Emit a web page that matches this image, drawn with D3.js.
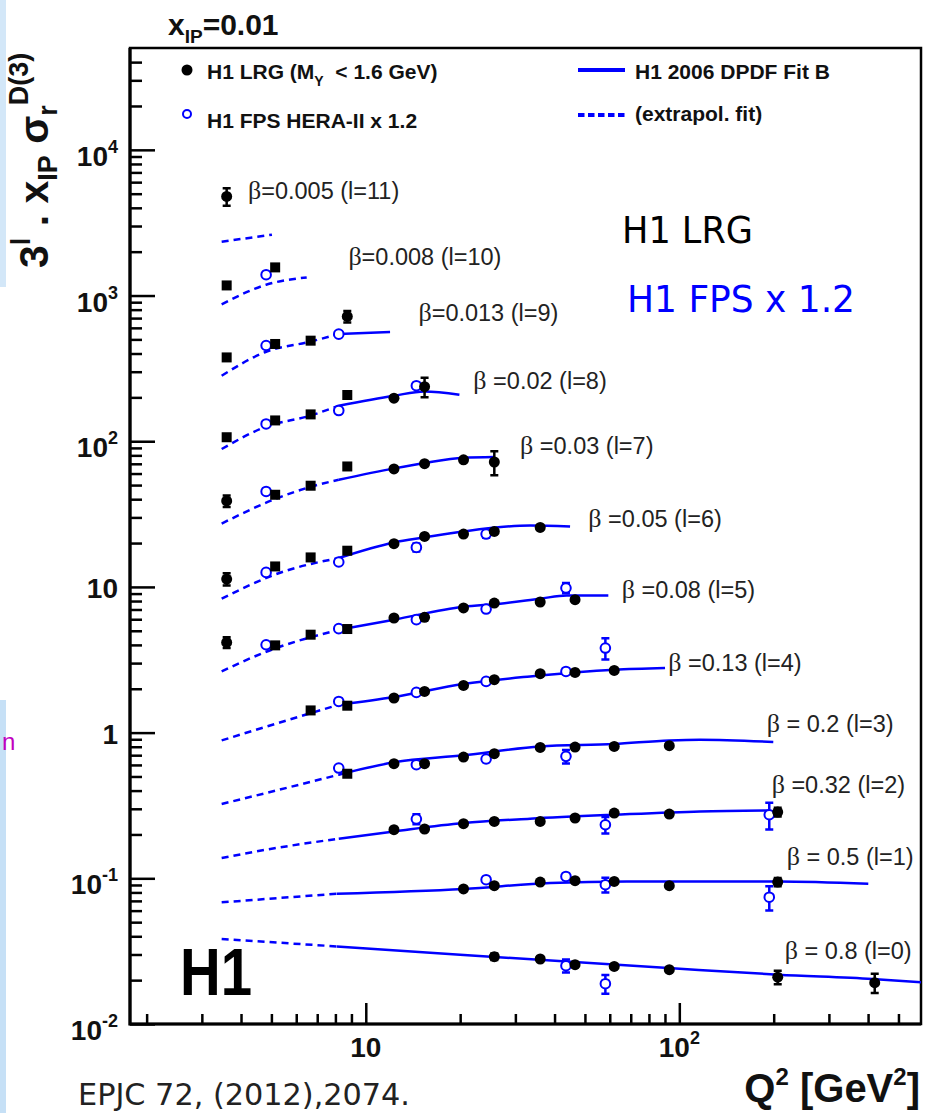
<!DOCTYPE html>
<html>
<head>
<meta charset="utf-8">
<script src="https://cdn.jsdelivr.net/npm/d3@7/dist/d3.min.js"></script>
<style>
  body { margin: 0; background: #fff; }
  svg { display: block; }
</style>
</head>
<body>
<svg id="chart" width="927" height="1113"></svg>
<script>
// beta bins, top row (l=11) to bottom row (l=0)
var binLabels = ['=0.005 (l=11)', '=0.008 (l=10)', '=0.013 (l=9)', ' =0.02 (l=8)', ' =0.03 (l=7)', ' =0.05 (l=6)',
    ' =0.08 (l=5)', ' =0.13 (l=4)', ' = 0.2 (l=3)', ' =0.32 (l=2)', ' = 0.5 (l=1)', ' = 0.8 (l=0)'];

// H1 LRG points per bin: [Q2, 3^l * xIP * sigma, error]
var lrgPoints = [
    [[3.6, 4790, 650]],
    [[3.6, 1173, 0], [5.14, 1560, 0]],
    [[3.6, 376, 0], [5.14, 465, 0], [6.67, 490, 0], [8.73, 719, 65]],
    [[3.6, 106.5, 0], [5.14, 138.9, 0], [6.67, 152.8, 0], [8.73, 207.6, 0], [12.3, 197.3, 0], [15.4, 236.6, 36]],
    [[3.6, 38.9, 3.5], [5.14, 42.9, 0], [6.67, 49.5, 0], [8.73, 67.1, 0], [12.3, 64.5, 0], [15.4, 70.1, 0], [20.5, 74.6, 0], [25.7, 72.0, 13.5]],
    [[3.6, 11.33, 1.1], [5.14, 13.82, 0], [6.67, 15.94, 0], [8.73, 17.72, 0], [12.3, 19.79, 0], [15.4, 22.21, 0], [20.5, 23.07, 0], [25.7, 24.04, 0], [36, 25.61, 0]],
    [[3.6, 4.16, 0.35], [5.14, 3.97, 0], [6.67, 4.70, 0], [8.73, 5.14, 0], [12.3, 6.12, 0], [15.4, 6.18, 0], [20.5, 7.17, 0], [25.7, 7.75, 0], [36, 7.88, 0], [46.5, 8.17, 0]],
    [[6.67, 1.42, 0], [8.73, 1.53, 0], [12.3, 1.728, 0], [15.4, 1.918, 0], [20.5, 2.108, 0], [25.7, 2.307, 0], [36, 2.537, 0], [46.5, 2.589, 0], [62, 2.673, 0]],
    [[8.73, 0.522, 0], [12.3, 0.612, 0], [15.4, 0.612, 0], [20.5, 0.680, 0], [25.7, 0.717, 0], [36, 0.791, 0], [46.5, 0.796, 0], [62, 0.804, 0], [92.9, 0.813, 0]],
    [[12.3, 0.2157, 0], [15.4, 0.218, 0], [20.5, 0.2369, 0], [25.7, 0.2457, 0], [36, 0.2457, 0], [46.5, 0.2594, 0], [62, 0.2806, 0], [92.9, 0.2762, 0], [206, 0.2851, 0.02]],
    [[20.5, 0.0845, 0], [25.7, 0.0890, 0], [36, 0.0943, 0], [46.5, 0.0963, 0], [62, 0.0952, 0], [92.9, 0.0890, 0], [206, 0.0943, 0.006]],
    [[25.7, 0.0290, 0.0015], [36, 0.02793, 0], [46.5, 0.02553, 0], [62, 0.02485, 0], [92.9, 0.02359, 0], [206, 0.02096, 0.0022], [420, 0.01921, 0.0029]]
];

// H1 FPS HERA-II x 1.2 points per bin: [Q2, value, error]
var fpsPoints = [
    [],
    [[4.81, 1390, 0]],
    [[4.81, 454, 0], [8.2, 543, 0]],
    [[4.81, 131.4, 0], [8.2, 162.4, 0], [14.5, 240.4, 0]],
    [[4.81, 45.2, 0]],
    [[4.81, 12.58, 0], [8.2, 14.83, 0], [14.5, 18.67, 1.2], [24.2, 23.07, 1.3]],
    [[4.81, 4.01, 0], [8.2, 5.17, 0], [14.5, 5.96, 0], [24.2, 7.05, 0.3], [43.5, 9.83, 0.8]],
    [[8.2, 1.637, 0], [14.5, 1.888, 0], [24.2, 2.246, 0.1], [43.5, 2.630, 0.1], [58.1, 3.807, 0.63]],
    [[8.2, 0.571, 0], [14.5, 0.602, 0], [24.2, 0.659, 0.03], [43.5, 0.687, 0.074]],
    [[14.5, 0.2553, 0.02], [58.1, 0.2332, 0.03], [193.6, 0.2732, 0.057]],
    [[24.2, 0.0978, 0], [43.5, 0.1030, 0.005], [58.1, 0.0904, 0.0105], [193.6, 0.0742, 0.014]],
    [[43.5, 0.02513, 0.0026], [58.1, 0.01891, 0.0028]]
];

// H1 2006 DPDF Fit B per bin: [Q2, value]
var fitCurves = [
    [[3.47, 2340], [5.02, 2615]],
    [[3.47, 871], [4.81, 1186], [6.48, 1332]],
    [[3.47, 281.6], [4.81, 411.5], [6.64, 482], [8.2, 544], [11.95, 562]],
    [[3.47, 88.4], [4.81, 125.8], [6.64, 149.6], [8.2, 175.3], [12.31, 205.3], [15.38, 219.7], [19.89, 208.5]],
    [[3.47, 27.2], [5.075, 39.7], [6.64, 48.5], [8.2, 54.4], [12.31, 65.1], [15.38, 70.9], [20.48, 77.0], [25.71, 77.9]],
    [[3.47, 8.30], [5.33, 12.52], [8.2, 15.79], [12.31, 20.20], [15.38, 21.86], [20.48, 24.04], [33.42, 26.43], [44.83, 26.01]],
    [[3.47, 2.63], [4.81, 3.59], [8.2, 5.08], [12.31, 5.96], [20.48, 7.31], [26.81, 7.67], [35.96, 8.30], [43.75, 8.74], [59.37, 8.74]],
    [[3.47, 0.884], [4.81, 1.098], [8.2, 1.554], [12.31, 1.755], [20.48, 2.156], [33.42, 2.430], [62.03, 2.702], [90.05, 2.776]],
    [[3.47, 0.3236], [4.81, 0.385], [8.2, 0.514], [12.31, 0.625], [20.48, 0.698], [35.96, 0.804], [62.03, 0.835], [92.92, 0.884], [116.4, 0.894], [199.4, 0.862]],
    [[3.47, 0.1378], [4.81, 0.1572], [8.2, 0.1870], [12.31, 0.2099], [20.48, 0.2396], [33.42, 0.2566], [62.03, 0.2732], [116.4, 0.2879], [193.6, 0.2924]],
    [[3.47, 0.0684], [8.08, 0.0784], [20.55, 0.0845], [38.7, 0.0928], [68.0, 0.0952], [206.8, 0.0952], [400.6, 0.0918]],
    [[3.47, 0.03832], [8.08, 0.03408], [19.99, 0.02989], [92.24, 0.02423], [206.9, 0.02180], [412.5, 0.02037], [600, 0.01930]]
];
// fit drawn dashed below this Q2 (extrapolation), solid above
var fitSolidFrom = [null, null, 8.2, 8.2, 8.2, 8.2, 8.2, 8.2, 8.2, 8.2, 8.08, 8.08];

// where each beta label sits, in data units
var labelQ = [4.21, 8.80, 14.72, 22.03, 31.05, 51.28, 65.5, 92.2, 190, 197, 220, 217];
var labelV = [4617, 1627, 671, 229.2, 82.1, 25.9, 8.43, 2.66, 1.014, 0.387, 0.124, 0.0281];

var yMajor = [1e-2, 1e-1, 1, 10, 1e2, 1e3, 1e4];
var yTickText = [['10', '-2'], ['10', '-1'], ['1', ''], ['10', ''], ['10', '2'], ['10', '3'], ['10', '4']];
var xMajor = [10, 100];
var xTickText = [['10', ''], ['10', '2']];

var SANS = "'Liberation Sans', Arial, sans-serif";
var SERIF = "'Liberation Serif', 'Times New Roman', serif";
var COMIC = "'DejaVu Sans', sans-serif";
var BLUE = '#0000ff';

var svg = d3.select('#chart');
var x = d3.scaleLog().domain([1.77, 590]).range([130, 921]);
var y = d3.scaleLog().domain([0.01, 5e4]).range([1024, 48]);

// slide leftovers at the left edge
svg.append('rect').attr('x', 0).attr('y', 0).attr('width', 6).attr('height', 287).attr('fill', '#d3e7f8');
svg.append('rect').attr('x', 0).attr('y', 700).attr('width', 6).attr('height', 413).attr('fill', '#c6e0f6');
svg.append('text').attr('x', 2).attr('y', 750).attr('font-family', SANS).attr('font-size', 24)
    .attr('fill', '#c000c0').text('n');

svg.append('defs').append('clipPath').attr('id', 'plotclip')
    .append('rect').attr('x', 130).attr('y', 48).attr('width', 791).attr('height', 976);

// minor tick values
var yMinor = [];
for (var n = -2; n <= 4; n++) {
    for (var k = 2; k <= 9; k++) {
        if (k * Math.pow(10, n) < 5e4) yMinor.push(k * Math.pow(10, n));
    }
}
var xMinor = [];
for (var m = 0; m <= 2; m++) {
    for (var j = 2; j <= 9; j++) {
        var v = j * Math.pow(10, m);
        if (v > 1.77 && v < 590) xMinor.push(v);
    }
}

function tickAxis(axis, sel) {
    sel.call(axis);
    sel.select('.domain').remove();
    sel.selectAll('.tick line').attr('stroke', '#000').attr('stroke-width', 2.5);
    sel.selectAll('.tick text').remove();
}

tickAxis(d3.axisRight(y).tickValues(yMajor).tickSize(25).tickFormat(''),
    svg.append('g').attr('transform', 'translate(130,0)'));
tickAxis(d3.axisRight(y).tickValues(yMinor).tickSize(12).tickFormat(''),
    svg.append('g').attr('transform', 'translate(130,0)'));
tickAxis(d3.axisTop(x).tickValues(xMajor).tickSize(21).tickFormat(''),
    svg.append('g').attr('transform', 'translate(0,1024)'));
tickAxis(d3.axisTop(x).tickValues(xMinor).tickSize(10).tickFormat(''),
    svg.append('g').attr('transform', 'translate(0,1024)'));

// frame
svg.append('rect').attr('x', 130).attr('y', 48).attr('width', 791).attr('height', 976)
    .attr('fill', 'none').attr('stroke', '#000').attr('stroke-width', 2.5);
svg.append('path').attr('d', 'M130,48V1024H921').attr('fill', 'none')
    .attr('stroke', '#000').attr('stroke-width', 3.2);

// tick labels
yMajor.forEach(function(v, i) {
    var lab = yTickText[i];
    var t = svg.append('text').attr('x', 118).attr('y', y(v) + (lab[1] ? 16 : 11))
        .attr('text-anchor', 'end').attr('font-family', SANS).attr('font-weight', 'bold')
        .attr('font-size', 28).attr('fill', '#111');
    t.append('tspan').text(lab[0]);
    if (lab[1]) t.append('tspan').attr('font-size', 18).attr('dy', -13).text(lab[1]);
});
xMajor.forEach(function(v, i) {
    var lab = xTickText[i];
    var t = svg.append('text').attr('x', x(v)).attr('y', 1057)
        .attr('text-anchor', 'middle').attr('font-family', SANS).attr('font-weight', 'bold')
        .attr('font-size', 28).attr('fill', '#111');
    t.append('tspan').text(lab[0]);
    if (lab[1]) t.append('tspan').attr('font-size', 18).attr('dy', -13).text(lab[1]);
});

// fit curves
var line = d3.line()
    .x(function(d) { return x(d[0]); })
    .y(function(d) { return y(d[1]); })
    .curve(d3.curveMonotoneX);
var curves = svg.append('g').attr('clip-path', 'url(#plotclip)');
fitCurves.forEach(function(pts, i) {
    var split = fitSolidFrom[i];
    var dashed = split == null ? pts : pts.filter(function(p) { return p[0] <= split; });
    var solid = split == null ? [] : pts.filter(function(p) { return p[0] >= split; });
    curves.append('path').datum(dashed).attr('d', line).attr('fill', 'none')
        .attr('stroke', BLUE).attr('stroke-width', 2.5).attr('stroke-dasharray', '7,5');
    if (solid.length > 1) {
        curves.append('path').datum(solid).attr('d', line).attr('fill', 'none')
            .attr('stroke', BLUE).attr('stroke-width', 2.5);
    }
});

function errorBars(g, pts, color) {
    pts.filter(function(p) { return p[2] > 0; }).forEach(function(p) {
        var cx = x(p[0]);
        var y1 = y(p[1] + p[2]);
        var y2 = y(p[1] - p[2]);
        g.append('path')
            .attr('d', 'M' + cx + ',' + y1 + 'V' + y2 + 'M' + (cx - 4) + ',' + y1 + 'H' + (cx + 4) +
                'M' + (cx - 4) + ',' + y2 + 'H' + (cx + 4))
            .attr('stroke', color).attr('stroke-width', 2.5).attr('fill', 'none');
    });
}

// FPS points (open blue circles)
var fpsG = svg.append('g');
fpsPoints.forEach(function(pts) {
    errorBars(fpsG, pts, BLUE);
    fpsG.selectAll(null).data(pts).enter().append('circle')
        .attr('cx', function(d) { return x(d[0]); })
        .attr('cy', function(d) { return y(d[1]); })
        .attr('r', 4.8).attr('fill', '#fff').attr('stroke', BLUE).attr('stroke-width', 2);
});

// LRG points (black, squares at low Q2)
var lrgG = svg.append('g');
lrgPoints.forEach(function(pts) {
    errorBars(lrgG, pts, '#000');
    var sq = pts.filter(function(d) { return d[0] < 10 && d[2] === 0; });
    var ci = pts.filter(function(d) { return !(d[0] < 10 && d[2] === 0); });
    lrgG.selectAll(null).data(sq).enter().append('rect')
        .attr('x', function(d) { return x(d[0]) - 5; })
        .attr('y', function(d) { return y(d[1]) - 5; })
        .attr('width', 10).attr('height', 10).attr('fill', '#000');
    lrgG.selectAll(null).data(ci).enter().append('circle')
        .attr('cx', function(d) { return x(d[0]); })
        .attr('cy', function(d) { return y(d[1]); })
        .attr('r', 5.5).attr('fill', '#000');
});

// beta labels
binLabels.forEach(function(txt, i) {
    var t = svg.append('text').attr('x', x(labelQ[i])).attr('y', y(labelV[i]))
        .attr('font-family', SANS).attr('font-size', 23.5).attr('fill', '#222');
    t.append('tspan').attr('font-family', SERIF).attr('font-size', 26).text('\u03b2');
    t.append('tspan').text(txt);
});

// legend
svg.append('circle').attr('cx', 187).attr('cy', 70).attr('r', 5.5).attr('fill', '#000');
var l1 = svg.append('text').attr('x', 207).attr('y', 79).attr('font-family', SANS)
    .attr('font-weight', 'bold').attr('font-size', 21).attr('fill', '#111');
l1.append('tspan').text('H1 LRG (M');
l1.append('tspan').attr('font-size', 14).attr('dy', 7).text('Y');
l1.append('tspan').attr('dy', -7).text('\u00a0 < 1.6 GeV)');
svg.append('circle').attr('cx', 187).attr('cy', 114).attr('r', 4).attr('fill', '#fff')
    .attr('stroke', BLUE).attr('stroke-width', 2);
svg.append('text').attr('x', 207).attr('y', 128).attr('font-family', SANS).attr('font-weight', 'bold')
    .attr('font-size', 21).attr('fill', '#111').text('H1 FPS HERA-II x 1.2');
svg.append('path').attr('d', 'M578,70H625').attr('stroke', BLUE).attr('stroke-width', 4);
svg.append('text').attr('x', 635).attr('y', 79).attr('font-family', SANS).attr('font-weight', 'bold')
    .attr('font-size', 21).attr('fill', '#111').text('H1 2006 DPDF Fit B');
svg.append('path').attr('d', 'M578,115H625').attr('stroke', BLUE).attr('stroke-width', 4)
    .attr('stroke-dasharray', '6.5,3.5');
svg.append('text').attr('x', 635).attr('y', 121).attr('font-family', SANS).attr('font-weight', 'bold')
    .attr('font-size', 21).attr('fill', '#111').text('(extrapol. fit)');

// title
var ti = svg.append('text').attr('x', 168).attr('y', 35).attr('font-family', SANS)
    .attr('font-weight', 'bold').attr('font-size', 30).attr('fill', '#111');
ti.append('tspan').text('x');
ti.append('tspan').attr('font-size', 19).attr('dy', 8).text('IP');
ti.append('tspan').attr('dy', -8).text('=0.01');

// y axis title
var yt = svg.append('text').attr('transform', 'translate(48,268) rotate(-90)')
    .attr('font-family', SANS).attr('font-weight', 'bold').attr('font-size', 41).attr('fill', '#111');
yt.append('tspan').text('3');
yt.append('tspan').attr('font-size', 27).attr('dy', -18).text('l');
yt.append('tspan').attr('dy', 18).text(' . x');
yt.append('tspan').attr('font-size', 27).attr('dy', 9).text('IP');
yt.append('tspan').attr('dy', -9).text(' \u03c3');
yt.append('tspan').attr('font-size', 27).attr('dy', 9).text('r');
yt.append('tspan').attr('font-size', 27).attr('dy', -29).text('D(3)');

// x axis title
var xt = svg.append('text').attr('x', 920).attr('y', 1102).attr('text-anchor', 'end')
    .attr('font-family', SANS).attr('font-weight', 'bold').attr('font-size', 40).attr('fill', '#111');
xt.append('tspan').text('Q');
xt.append('tspan').attr('font-size', 24).attr('dy', -17).text('2');
xt.append('tspan').attr('dy', 17).text(' [GeV');
xt.append('tspan').attr('font-size', 24).attr('dy', -17).text('2');
xt.append('tspan').attr('dy', 17).text(']');

// plot decorations
svg.append('text').attr('x', 180).attr('y', 995).attr('font-family', SANS).attr('font-weight', 'bold')
    .attr('font-size', 66).attr('textLength', 72).attr('lengthAdjust', 'spacingAndGlyphs')
    .attr('fill', '#000').text('H1');
svg.append('text').attr('x', 622).attr('y', 243).attr('font-family', COMIC).attr('font-size', 38)
    .attr('textLength', 131).attr('lengthAdjust', 'spacingAndGlyphs').attr('fill', '#000').text('H1 LRG');
svg.append('text').attr('x', 627).attr('y', 312).attr('font-family', COMIC).attr('font-size', 38)
    .attr('textLength', 228).attr('lengthAdjust', 'spacingAndGlyphs').attr('fill', BLUE).text('H1 FPS x 1.2');
svg.append('text').attr('x', 78).attr('y', 1105).attr('font-family', COMIC).attr('font-size', 31)
    .attr('textLength', 332).attr('lengthAdjust', 'spacingAndGlyphs').attr('fill', '#222')
    .text('EPJC 72, (2012),2074.');
</script>
</body>
</html>
